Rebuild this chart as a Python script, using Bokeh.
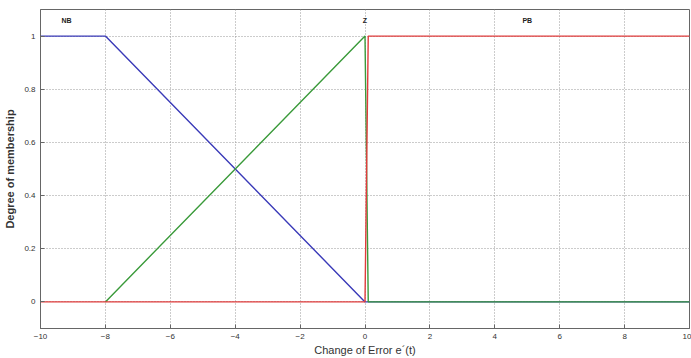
from bokeh.plotting import figure
from bokeh.models import Range1d, FixedTicker, Label
from bokeh.embed import file_html
from bokeh.resources import INLINE

# Membership functions (x, y)
nb_x = [-10, -8, 0, 10]
nb_y = [1, 1, 0, 0]
z_x = [-8, 0, 0.1, 10]
z_y = [0, 1, 0, 0]
pb_x = [-10, 0, 0.1, 10]
pb_y = [0, 0, 1, 1]

x_ticks = [-10, -8, -6, -4, -2, 0, 2, 4, 6, 8, 10]
y_ticks = [0, 0.2, 0.4, 0.6, 0.8, 1]
set_names = ["NB", "Z", "PB"]
set_label_x = [-9.2, 0, 5]
set_label_y = [1.06, 1.06, 1.06]

p = figure(frame_width=649, frame_height=319, output_backend="svg",
           toolbar_location=None, x_range=Range1d(-10, 10), y_range=Range1d(-0.1, 1.1),
           min_border_left=40, min_border_top=9, min_border_right=2, min_border_bottom=30)

p.line(nb_x, nb_y, line_color="#3a3ab8", line_width=1.4)
p.line(z_x, z_y, line_color="#3a9a3a", line_width=1.4)
p.line(pb_x, pb_y, line_color="#e03c3c", line_width=1.4)

for name, lx, ly in zip(set_names, set_label_x, set_label_y):
    p.add_layout(Label(x=lx, y=ly, text=name, text_font="Liberation Sans",
                       text_font_size="7px", text_font_style="bold", text_align="center",
                       text_baseline="middle", text_color="#222222"))

p.xaxis.ticker = FixedTicker(ticks=x_ticks)
p.yaxis.ticker = FixedTicker(ticks=y_ticks)
p.yaxis.major_label_overrides = {0: "0", 0.2: "0.2", 0.4: "0.4", 0.6: "0.6", 0.8: "0.8", 1: "1"}

p.xaxis.axis_label = "Change of Error e\u00b4(t)"
p.yaxis.axis_label = "Degree of membership"
for ax in (p.xaxis, p.yaxis):
    ax.axis_label_text_font = "Liberation Sans"
    ax.axis_label_text_font_size = "11px"
    ax.axis_label_text_font_style = "normal"
    ax.axis_label_text_color = "#333333"
    ax.major_label_text_font = "Liberation Sans"
    ax.major_label_text_font_size = "8px"
    ax.major_label_text_color = "#333333"
    ax.major_tick_in = 4
    ax.major_tick_out = 0
    ax.minor_tick_line_color = None
    ax.axis_line_color = "#666666"
    ax.major_tick_line_color = "#666666"
    ax.major_label_standoff = 5
    ax.axis_label_standoff = 2
p.yaxis.axis_label_text_font_style = "bold"
p.yaxis.axis_label_standoff = 5

p.grid.grid_line_color = "#999999"
p.grid.grid_line_dash = "1 2"
p.grid.grid_line_width = 1
p.outline_line_color = "#666666"
p.outline_line_width = 1

open("out.html", "w").write(file_html(p, INLINE))
